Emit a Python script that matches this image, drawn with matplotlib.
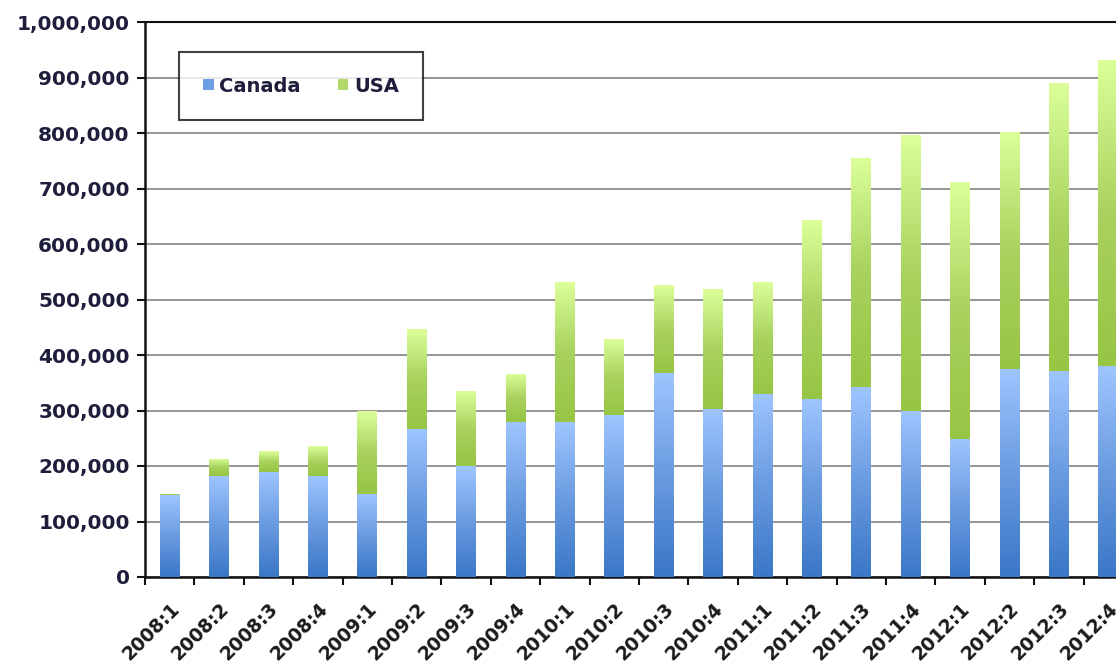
import numpy as np
import matplotlib
matplotlib.use("Agg")
import matplotlib.pyplot as plt
from matplotlib.colors import LinearSegmentedColormap
from matplotlib.ticker import FuncFormatter, FixedLocator
from matplotlib.patches import Patch
from matplotlib.transforms import ScaledTranslation

categories = ["2008:1", "2008:2", "2008:3", "2008:4",
              "2009:1", "2009:2", "2009:3", "2009:4",
              "2010:1", "2010:2", "2010:3", "2010:4",
              "2011:1", "2011:2", "2011:3", "2011:4",
              "2012:1", "2012:2", "2012:3", "2012:4"]
canada = [147000, 182000, 190000, 182000,
          150000, 267000, 200000, 279000,
          279000, 292000, 368000, 303000,
          330000, 321000, 342000, 299000,
          249000, 375000, 371000, 380000]
totals = [150000, 213000, 227000, 236000,
          299000, 447000, 335000, 366000,
          532000, 429000, 526000, 519000,
          532000, 643000, 755000, 796000,
          712000, 802000, 890000, 932000]
usa = [t - c for t, c in zip(totals, canada)]
yticks = list(range(0, 1000001, 100000))

fig = plt.figure(figsize=(11.16, 6.65), dpi=100)
ax = fig.add_axes([145/1116, 88/665, 988/1116, 555/665])

x = np.arange(len(categories))
w = 0.40
blue_cmap = LinearSegmentedColormap.from_list("b", ["#3a77c7", "#6a9be0", "#9ec5ff"])
green_cmap = LinearSegmentedColormap.from_list("g", ["#97c544", "#a9d25e", "#dcff9a"])
grad = np.linspace(0, 1, 256).reshape(-1, 1)

bars_c = ax.bar(x, canada, width=w, color="#7aa8ea", zorder=3)
bars_u = ax.bar(x, usa, width=w, bottom=canada, color="#bde27a", zorder=3)

for bars, cmap in ((bars_c, blue_cmap), (bars_u, green_cmap)):
    for b in bars:
        x0, y0 = b.get_x(), b.get_y()
        bw, bh = b.get_width(), b.get_height()
        im = ax.imshow(grad, cmap=cmap, origin="lower", aspect="auto",
                       extent=(x0, x0 + bw, y0, y0 + bh), zorder=4,
                       interpolation="bilinear")
        im.set_clip_path(b)

ax.set_xlim(-0.5, len(categories) - 0.5)
ax.set_ylim(0, 1000000)

ax.set_yticks(yticks)
ax.yaxis.set_major_formatter(FuncFormatter(lambda v, p: f"{int(v):,}"))
ax.grid(axis="y", color="#8c8c8c", linewidth=1.3, zorder=0)
ax.set_axisbelow(True)

ax.set_xticks(x)
ax.set_xticklabels(categories, rotation=45, ha="right", rotation_mode="anchor",
                   fontsize=13.5, fontweight="bold", color="#1a1a1a")
offset = ScaledTranslation(-6/100, 0, fig.dpi_scale_trans)
for lbl in ax.get_xticklabels():
    lbl.set_transform(lbl.get_transform() + offset)
ax.xaxis.set_minor_locator(FixedLocator(np.arange(-0.5, len(categories), 1.0)))
ax.tick_params(axis="x", which="major", length=0, pad=16)
ax.tick_params(axis="x", which="minor", length=6, width=1.5, color="#111111")
ax.tick_params(axis="y", length=6, width=1.5, color="#111111", pad=5)
for lbl in ax.get_yticklabels():
    lbl.set_fontsize(14.5)
    lbl.set_fontweight("bold")
    lbl.set_color("#1e1e3c")

for s in ("left", "bottom", "top"):
    ax.spines[s].set_color("#111111")
    ax.spines[s].set_linewidth(1.8)
ax.spines["top"].set_linewidth(1.5)
ax.spines["right"].set_visible(False)

handles = [Patch(facecolor="#6d9ee6", edgecolor="none", label="Canada"),
           Patch(facecolor="#b0d96a", edgecolor="none", label="USA")]
leg = fig.legend(handles=handles, loc="center",
                 bbox_to_anchor=(301/1116, 1 - 86/665), ncol=2,
                 frameon=True, fancybox=False, handlelength=0.55, handleheight=0.5,
                 handletextpad=0.3, columnspacing=1.9, borderpad=1.25,
                 borderaxespad=0,
                 prop={"weight": "bold", "size": 14})
leg.get_frame().set_edgecolor("#111111")
leg.get_frame().set_linewidth(1.5)
for t in leg.get_texts():
    t.set_color("#1e1e3c")

fig.savefig("out.png", dpi=100)
